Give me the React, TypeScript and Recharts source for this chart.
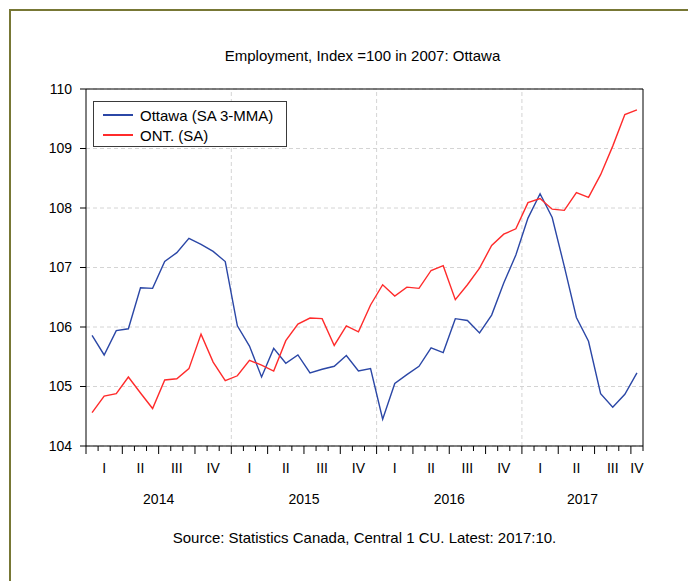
import React from 'react';
import {
  LineChart,
  Line,
  XAxis,
  YAxis,
  CartesianGrid,
  ReferenceLine,
  Legend,
} from 'recharts';

// monthly, 2014:01 .. 2017:10
const years = ['2014', '2015', '2016', '2017'];
const quarterNames = ['I', 'II', 'III', 'IV'];

const ottawa = [
  105.86, 105.53, 105.94, 105.97, 106.66, 106.65, 107.1, 107.25, 107.49, 107.39, 107.27, 107.1,
  106.02, 105.68, 105.16, 105.64, 105.39, 105.53, 105.23, 105.29, 105.34, 105.52, 105.26, 105.3,
  104.45, 105.05, 105.2, 105.34, 105.65, 105.57, 106.14, 106.11, 105.9, 106.2, 106.74, 107.21,
  107.83, 108.24, 107.84, 107.02, 106.16, 105.76, 104.88, 104.65, 104.87, 105.23,
];

const ontario = [
  104.56, 104.84, 104.88, 105.16, 104.89, 104.63, 105.11, 105.13, 105.3, 105.88, 105.41, 105.1,
  105.18, 105.44, 105.36, 105.26, 105.77, 106.05, 106.15, 106.14, 105.69, 106.02, 105.92, 106.37,
  106.71, 106.52, 106.67, 106.65, 106.95, 107.03, 106.46, 106.71, 106.99, 107.37, 107.56, 107.65,
  108.09, 108.16, 107.98, 107.96, 108.26, 108.18, 108.56, 109.04, 109.57, 109.65,
];

const yTicks = [104, 105, 106, 107, 108, 109, 110];

const series = [
  { key: 'ottawa', label: 'Ottawa (SA 3-MMA)', color: '#2b47a6' },
  { key: 'ontario', label: 'ONT. (SA)', color: '#ff2b2b' },
];

const nMonths = ottawa.length;

const data = ottawa.map((v, i) => ({ x: i + 0.5, ottawa: v, ontario: ontario[i] }));

const monthTicks = Array.from({ length: nMonths + 1 }, (_, i) => i);
const quarterStarts = monthTicks.filter((m) => m % 3 === 0 && m < nMonths);
const quarterTicks = quarterStarts.map((s) => s + Math.min(3, nMonths - s) / 2);
const yearStarts = monthTicks.filter((m) => m % 12 === 0 && m < nMonths);
const yearTicks = yearStarts.map((s) => s + Math.min(12, nMonths - s) / 2);
const yearLines = yearStarts.filter((s) => s > 0);

const FONT = '"Liberation Sans", Arial, sans-serif';

const MonthTick = (props: any) => {
  const { x, y, payload } = props;
  const len = payload.value % 3 === 0 ? 8 : 5;
  return <line x1={x} x2={x} y1={y} y2={y + len} stroke="#000" strokeWidth={1} />;
};

const QuarterTick = (props: any) => {
  const { x, y, index } = props;
  return (
    <text x={x} y={y} dy={17} textAnchor="middle" fontSize={14} fill="#000">
      {quarterNames[index % 4]}
    </text>
  );
};

const YearTick = (props: any) => {
  const { x, y, index } = props;
  return (
    <text x={x} y={y} dy={18} textAnchor="middle" fontSize={14} fill="#000">
      {years[index]}
    </text>
  );
};

const renderLegend = () => (
  <div
    style={{
      width: 194,
      height: 46,
      boxSizing: 'border-box',
      border: '1.5px solid #3a3a3a',
      background: '#fff',
      padding: '3px 0 0 0',
    }}
  >
    {series.map((s) => (
      <div key={s.key} style={{ display: 'flex', alignItems: 'center', height: 20 }}>
        <span
          style={{ display: 'inline-block', width: 30, height: 1.5, background: s.color, marginLeft: 9 }}
        />
        <span style={{ marginLeft: 7, fontSize: 15, color: '#000', fontFamily: FONT }}>{s.label}</span>
      </div>
    ))}
  </div>
);

export default function App() {
  return (
    <div
      style={{
        position: 'absolute',
        left: 0,
        top: 0,
        width: 688,
        height: 581,
        background: '#fff',
        fontFamily: FONT,
        overflow: 'hidden',
      }}
    >
      <div
        style={{
          position: 'absolute',
          left: 9,
          top: 9,
          width: 700,
          height: 600,
          borderLeft: '2px solid #777735',
          borderTop: '2px solid #777735',
        }}
      />
      <div
        style={{
          position: 'absolute',
          left: 84,
          width: 557,
          top: 47,
          textAlign: 'center',
          fontSize: 15,
          color: '#000',
        }}
      >
        Employment, Index =100 in 2007: Ottawa
      </div>
      <div
        style={{
          position: 'absolute',
          left: 86,
          width: 557,
          top: 529,
          textAlign: 'center',
          fontSize: 15,
          color: '#000',
        }}
      >
        Source: Statistics Canada, Central 1 CU. Latest: 2017:10.
      </div>
      <div style={{ position: 'absolute', left: 0, top: 0 }}>
        <LineChart width={688} height={581} data={data} margin={{ top: 89, right: 45, bottom: 65, left: 0 }}>
          <CartesianGrid
            xAxisId="m"
            vertical={false}
            stroke="#d4d4d4"
            strokeDasharray="4 3"
          />
          {yearLines.map((v) => (
            <ReferenceLine key={v} xAxisId="m" x={v} stroke="#d4d4d4" strokeDasharray="4 3" />
          ))}
          <XAxis
            xAxisId="m"
            dataKey="x"
            type="number"
            domain={[0, nMonths]}
            ticks={monthTicks}
            interval={0}
            height={10}
            tickSize={0}
            tickMargin={0}
            tickLine={false}
            axisLine={{ stroke: '#000' }}
            tick={<MonthTick />}
            allowDataOverflow
          />
          <XAxis
            xAxisId="q"
            dataKey="x"
            type="number"
            domain={[0, nMonths]}
            ticks={quarterTicks}
            interval={0}
            height={30}
            tickSize={0}
            tickMargin={0}
            tickLine={false}
            axisLine={false}
            tick={<QuarterTick />}
            allowDataOverflow
          />
          <XAxis
            xAxisId="y"
            dataKey="x"
            type="number"
            domain={[0, nMonths]}
            ticks={yearTicks}
            interval={0}
            height={30}
            tickSize={0}
            tickMargin={0}
            tickLine={false}
            axisLine={false}
            tick={<YearTick />}
            allowDataOverflow
          />
          <YAxis
            domain={[104, 110]}
            ticks={yTicks}
            interval={0}
            width={86}
            tickSize={6}
            tickMargin={8}
            axisLine={{ stroke: '#000' }}
            tickLine={{ stroke: '#000' }}
            tick={{ fill: '#000', fontSize: 14 }}
          />
          <ReferenceLine xAxisId="m" y={110} stroke="#000" />
          <ReferenceLine xAxisId="m" x={nMonths} stroke="#000" />
          <Legend
            layout="vertical"
            align="center"
            verticalAlign="middle"
            content={renderLegend}
            wrapperStyle={{ left: 93, top: 101, width: 194, height: 46 }}
          />
          {series.map((s) => (
            <Line
              key={s.key}
              xAxisId="m"
              type="linear"
              dataKey={s.key}
              name={s.label}
              stroke={s.color}
              strokeWidth={1.4}
              dot={false}
              isAnimationActive={false}
            />
          ))}
        </LineChart>
      </div>
    </div>
  );
}
